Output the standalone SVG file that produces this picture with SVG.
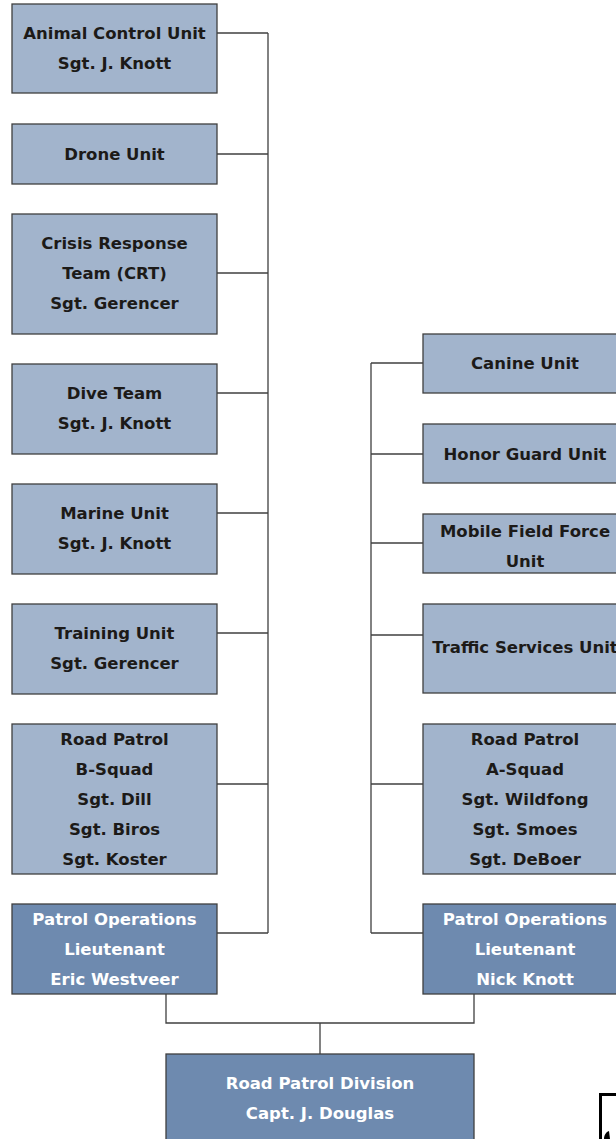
<svg xmlns="http://www.w3.org/2000/svg" width="616" height="1139" viewBox="0 0 616 1139">
<style>
.lt{fill:#a2b4cc;stroke:#3f3f3f;stroke-width:1.3}
.dk{fill:#6e8aaf;stroke:#3f3f3f;stroke-width:1.3}
text{font-family:"DejaVu Sans","Liberation Sans",sans-serif;font-weight:bold;font-size:16.5px;text-anchor:middle}
.tl{fill:#1c1a18}
.tw{fill:#ffffff}
.cn{fill:none;stroke:#404040;stroke-width:1.3}
</style>
<rect width="616" height="1139" fill="#ffffff"/>
<g id="connectors" class="cn">
<path d="M268 33V933M217 33H268M217 154H268M217 273H268M217 393H268M217 513H268M217 633H268M217 784H268M217 933H268"/>
<path d="M371 363V933M371 363H423M371 454H423M371 543H423M371 635H423M371 784H423M371 933H423"/>
<path d="M166 994V1023H474V994M320 1023V1054"/>
</g>
<g id="animal"><rect class="lt" x="12" y="4" width="205" height="89"/><text class="tl" x="114.5" y="39">Animal Control Unit</text><text class="tl" x="114.5" y="69">Sgt. J. Knott</text></g>
<g id="drone"><rect class="lt" x="12" y="124" width="205" height="60"/><text class="tl" x="114.5" y="160">Drone Unit</text></g>
<g id="crt"><rect class="lt" x="12" y="214" width="205" height="120"/><text class="tl" x="114.5" y="249">Crisis Response</text><text class="tl" x="114.5" y="279">Team (CRT)</text><text class="tl" x="114.5" y="309">Sgt. Gerencer</text></g>
<g id="dive"><rect class="lt" x="12" y="364" width="205" height="90"/><text class="tl" x="114.5" y="399">Dive Team</text><text class="tl" x="114.5" y="429">Sgt. J. Knott</text></g>
<g id="marine"><rect class="lt" x="12" y="484" width="205" height="90"/><text class="tl" x="114.5" y="519">Marine Unit</text><text class="tl" x="114.5" y="549">Sgt. J. Knott</text></g>
<g id="training"><rect class="lt" x="12" y="604" width="205" height="90"/><text class="tl" x="114.5" y="639">Training Unit</text><text class="tl" x="114.5" y="669">Sgt. Gerencer</text></g>
<g id="roadb"><rect class="lt" x="12" y="724" width="205" height="150"/><text class="tl" x="114.5" y="745">Road Patrol</text><text class="tl" x="114.5" y="775">B-Squad</text><text class="tl" x="114.5" y="805">Sgt. Dill</text><text class="tl" x="114.5" y="835">Sgt. Biros</text><text class="tl" x="114.5" y="865">Sgt. Koster</text></g>
<g id="westveer"><rect class="dk" x="12" y="904" width="205" height="90"/><text class="tw" x="114.5" y="925">Patrol Operations</text><text class="tw" x="114.5" y="955">Lieutenant</text><text class="tw" x="114.5" y="985">Eric Westveer</text></g>
<g id="canine"><rect class="lt" x="423" y="334" width="205" height="59"/><text class="tl" x="525" y="369">Canine Unit</text></g>
<g id="honor"><rect class="lt" x="423" y="424" width="205" height="59"/><text class="tl" x="525" y="460">Honor Guard Unit</text></g>
<g id="mobile"><rect class="lt" x="423" y="514" width="205" height="59"/><text class="tl" x="525" y="537">Mobile Field Force</text><text class="tl" x="525" y="567">Unit</text></g>
<g id="traffic"><rect class="lt" x="423" y="604" width="205" height="89"/><text class="tl" x="525" y="653">Traffic Services Unit</text></g>
<g id="roada"><rect class="lt" x="423" y="724" width="205" height="150"/><text class="tl" x="525" y="745">Road Patrol</text><text class="tl" x="525" y="775">A-Squad</text><text class="tl" x="525" y="805">Sgt. Wildfong</text><text class="tl" x="525" y="835">Sgt. Smoes</text><text class="tl" x="525" y="865">Sgt. DeBoer</text></g>
<g id="knott"><rect class="dk" x="423" y="904" width="205" height="90"/><text class="tw" x="525" y="925">Patrol Operations</text><text class="tw" x="525" y="955">Lieutenant</text><text class="tw" x="525" y="985">Nick Knott</text></g>
<g id="division"><rect class="dk" x="166" y="1054" width="308" height="95"/><text class="tw" x="320" y="1089">Road Patrol Division</text><text class="tw" x="320" y="1119">Capt. J. Douglas</text></g>
<g id="icon"><rect x="600.5" y="1094.5" width="30" height="60" fill="#ffffff" stroke="#000000" stroke-width="3"/><path d="M604 1139C604 1135 606 1132 609 1131L610 1139Z" fill="#000000"/></g>
</svg>
